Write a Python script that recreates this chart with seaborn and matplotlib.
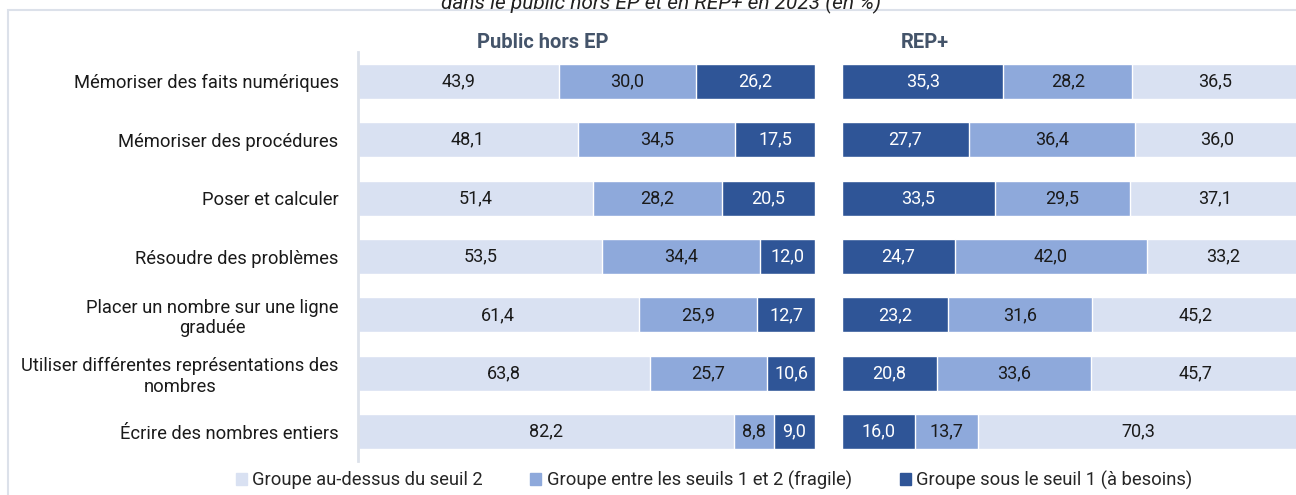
import pandas as pd
import matplotlib.pyplot as plt
import seaborn as sns
from matplotlib.patches import Rectangle

categories = [
    "Mémoriser des faits numériques",
    "Mémoriser des procédures",
    "Poser et calculer",
    "Résoudre des problèmes",
    "Placer un nombre sur une ligne\ngraduée",
    "Utiliser différentes représentations des\nnombres",
    "Écrire des nombres entiers",
]
groups = ["Groupe au-dessus du seuil 2",
          "Groupe entre les seuils 1 et 2 (fragile)",
          "Groupe sous le seuil 1 (à besoins)"]

# Public hors EP
hors_ep_above = [43.9, 48.1, 51.4, 53.5, 61.4, 63.8, 82.2]
hors_ep_fragile = [30.0, 34.5, 28.2, 34.4, 25.9, 25.7, 8.8]
hors_ep_besoins = [26.2, 17.5, 20.5, 12.0, 12.7, 10.6, 9.0]

# REP+
rep_above = [36.5, 36.0, 37.1, 33.2, 45.2, 45.7, 70.3]
rep_fragile = [28.2, 36.4, 29.5, 42.0, 31.6, 33.6, 13.7]
rep_besoins = [35.3, 27.7, 33.5, 24.7, 23.2, 20.8, 16.0]

colors = {groups[0]: "#D9E1F2", groups[1]: "#8EA9DB", groups[2]: "#2F5597"}
text_colors = {groups[0]: "#1a1a1a", groups[1]: "#1a1a1a", groups[2]: "white"}

sns.set_style("white")
plt.rcParams['font.family'] = ['Roboto', 'DejaVu Sans']

fig = plt.figure(figsize=(12.96, 4.95), dpi=100)
fig.patches.append(Rectangle((8 / 1296, -0.1), 1.2, 1 - 10 / 495 + 0.1,
                             transform=fig.transFigure, fill=False,
                             edgecolor="#DCE1EA", linewidth=1.5))
fig.text(0.51, 1 - 3 / 495, "dans le public hors EP et en REP+ en 2023 (en %)",
         ha="center", va="center", fontsize=15, style="italic", color="#222222")

ax1 = fig.add_axes([358 / 1296, 1 - 461 / 495, 457 / 1296, 409 / 495])
ax2 = fig.add_axes([842 / 1296, 1 - 461 / 495, 457 / 1296, 409 / 495])


def stacked(ax, order, values):
    df = pd.DataFrame({"cat": categories})
    cum = [0] * len(categories)
    starts = []
    for g in order:
        starts.append(list(cum))
        cum = [c + v for c, v in zip(cum, values[g])]
        df[g] = cum
    # draw largest cumulative first so later bars overlay
    for g in reversed(order):
        sns.barplot(data=df, x=g, y="cat", color=colors[g], saturation=1,
                    width=0.6, ax=ax, orient="h")
    for g, st in zip(order, starts):
        for i, (s, v) in enumerate(zip(st, values[g])):
            ax.text(s + v / 2, i, f"{v:.1f}".replace(".", ","), ha="center",
                    va="center", fontsize=13, color=text_colors[g])
    ax.set_xlim(0, 100)
    ax.set_ylim(6.5, -0.5)
    ax.set_xlabel("")
    ax.set_ylabel("")
    ax.set_xticks([])
    sns.despine(ax=ax, top=True, right=True, bottom=True, left=False)


vals1 = {groups[0]: hors_ep_above, groups[1]: hors_ep_fragile, groups[2]: hors_ep_besoins}
vals2 = {groups[0]: rep_above, groups[1]: rep_fragile, groups[2]: rep_besoins}
stacked(ax1, groups, vals1)
stacked(ax2, list(reversed(groups)), vals2)

ax1.spines["left"].set_color("#DCE1EA")
ax1.spines["left"].set_linewidth(2)
ax1.tick_params(axis="y", length=0, pad=14)
ax1.set_yticks(range(len(categories)))
ax1.set_yticklabels(categories, fontsize=13.2, color="#1a1a1a",
                    multialignment="center", linespacing=1.15)
ax2.spines["left"].set_visible(False)
ax2.set_yticks([])

fig.text(543 / 1296, 1 - 42 / 495, "Public hors EP", ha="center", va="center",
         fontsize=14.5, fontweight="bold", color="#44546A")
fig.text(925 / 1296, 1 - 42 / 495, "REP+", ha="center", va="center",
         fontsize=14.5, fontweight="bold", color="#44546A")

handles = [Rectangle((0, 0), 1, 1, color=colors[g]) for g in groups]
fig.legend(handles, groups, loc="center", bbox_to_anchor=(714 / 1296, 1 - 480 / 495),
           ncol=3, frameon=False, fontsize=13.2, handlelength=0.6, handleheight=0.6,
           handletextpad=0.3, columnspacing=2.6)

fig.savefig("out.png", dpi=100)
